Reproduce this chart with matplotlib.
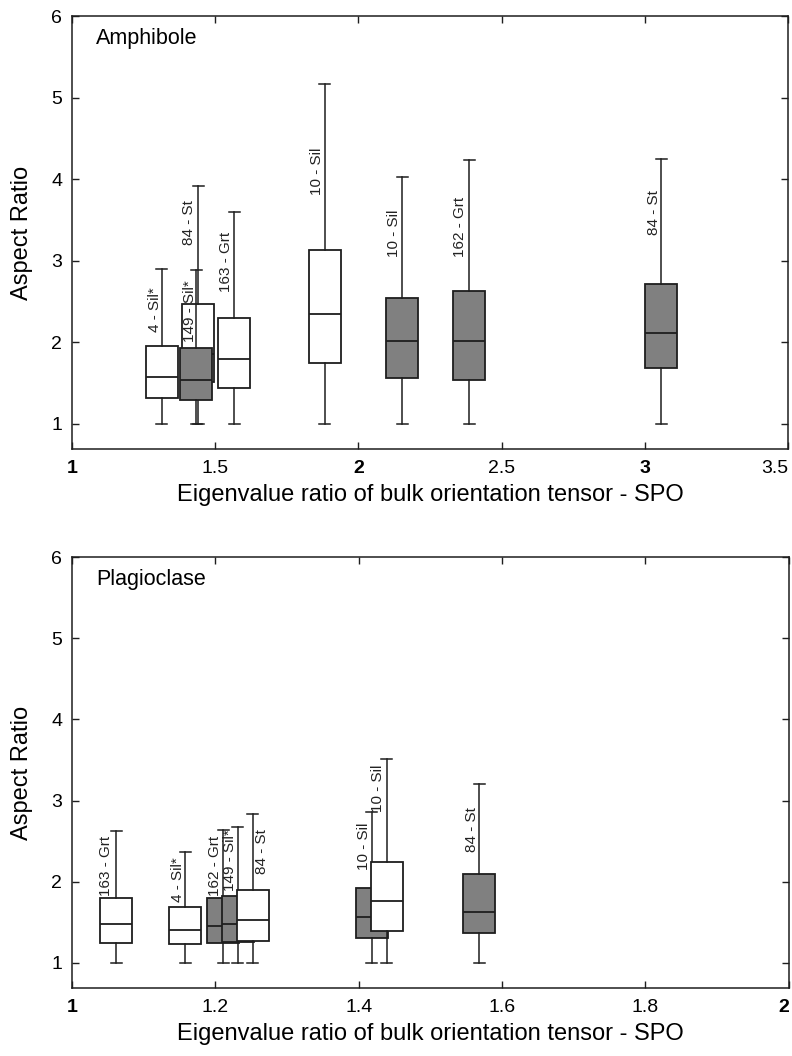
import numpy as np
import matplotlib
matplotlib.use('Agg')
import matplotlib.pyplot as plt

plt.rcParams['font.family'] = ['Liberation Sans', 'DejaVu Sans']

# Amphibole panel (top)
amph_labels = ['4 - Sil*', '84 - St', '149 - Sil*', '163 - Grt', '10 - Sil', '10 - Sil', '162 - Grt', '84 - St']
amph_spo = [1.314, 1.441, 1.434, 1.567, 1.882, 2.153, 2.387, 3.058]
amph_whislo = [1.0, 1.0, 1.0, 1.0, 1.0, 1.0, 1.0, 1.0]
amph_q1 = [1.32, 1.51, 1.29, 1.44, 1.75, 1.56, 1.54, 1.68]
amph_med = [1.57, 1.85, 1.54, 1.80, 2.34, 2.01, 2.02, 2.11]
amph_q3 = [1.95, 2.47, 1.93, 2.30, 3.13, 2.54, 2.63, 2.71]
amph_whishi = [2.90, 3.92, 2.89, 3.60, 5.17, 4.02, 4.24, 4.25]
amph_filled = [False, False, True, False, False, True, True, True]

# Plagioclase panel (bottom)
plag_labels = ['163 - Grt', '4 - Sil*', '162 - Grt', '149 - Sil*', '84 - St', '10 - Sil', '10 - Sil', '84 - St']
plag_spo = [1.062, 1.158, 1.211, 1.2315, 1.252, 1.418, 1.439, 1.568]
plag_whislo = [1.0, 1.0, 1.0, 1.0, 1.0, 1.0, 1.0, 1.0]
plag_q1 = [1.25, 1.23, 1.24, 1.26, 1.27, 1.30, 1.39, 1.365]
plag_med = [1.48, 1.40, 1.455, 1.48, 1.525, 1.57, 1.76, 1.63]
plag_q3 = [1.80, 1.69, 1.80, 1.825, 1.90, 1.92, 2.24, 2.09]
plag_whishi = [2.62, 2.37, 2.64, 2.68, 2.83, 2.855, 3.51, 3.20]
plag_filled = [False, False, True, True, False, True, False, True]

# where the sample names sit (bottom of rotated text, x shift in pixels)
amph_label_y = [2.12, 3.19, 2.0, 2.61, 3.80, 3.04, 3.04, 3.32]
amph_label_dx = [-7, -9, -6, -8, -8, -8, -9, -7]
plag_label_y = [1.825, 1.755, 1.825, 1.88, 2.10, 2.145, 2.86, 2.37]
plag_label_dx = [-10, -7, -8, -8, 9, -8, -9, -7]

GRAY = '#808080'
EDGE = '#1e1e1e'


def draw_panel(ax, spo, lo, q1, med, q3, hi, filled, labels, lab_y, lab_dx, box_w, cap_w):
	for i in range(len(spo)):
		st = [{'med': med[i], 'q1': q1[i], 'q3': q3[i], 'whislo': lo[i], 'whishi': hi[i], 'fliers': []}]
		fc = GRAY if filled[i] else 'white'
		ax.bxp(st, positions=[spo[i]], widths=[box_w], capwidths=[cap_w],
			   showfliers=False, patch_artist=True, manage_ticks=False, zorder=2 + i,
			   boxprops=dict(facecolor=fc, edgecolor=EDGE, linewidth=1.3),
			   whiskerprops=dict(color=EDGE, linewidth=1.1),
			   capprops=dict(color=EDGE, linewidth=1.1),
			   medianprops=dict(color=EDGE, linewidth=1.3))
		ax.annotate(labels[i], xy=(spo[i], lab_y[i]), xytext=(lab_dx[i] * 0.72, 0),
					textcoords='offset points', rotation=90, ha='center', va='bottom',
					fontsize=11, color='#222222', zorder=20)


def style_axes(ax, xticks, xlabels, bold, title):
	ax.set_ylim(0.69, 6)
	ax.set_yticks([1, 2, 3, 4, 5, 6])
	ax.set_xticks(xticks)
	ax.set_xticklabels(xlabels)
	for t, b in zip(ax.get_xticklabels(), bold):
		if b:
			t.set_fontweight('bold')
	# last label sits on the right edge of the figure, keep it inside
	ax.get_xticklabels()[-1].set_horizontalalignment('right')
	ax.tick_params(direction='in', length=5, width=1.0, labelsize=14, top=True, right=True, color=EDGE)
	ax.tick_params(axis='x', pad=8)
	ax.tick_params(axis='y', pad=7)
	for s in ax.spines.values():
		s.set_linewidth(1.1)
		s.set_color(EDGE)
	ax.set_xlabel('Eigenvalue ratio of bulk orientation tensor - SPO', fontsize=17, labelpad=5)
	ax.set_ylabel('Aspect Ratio', fontsize=17)
	ax.yaxis.set_label_coords(-0.054, 0.5)
	ax.text(0.034, 0.972, title, transform=ax.transAxes, ha='left', va='top', fontsize=15.5)


fig = plt.figure(figsize=(7.92, 10.56), dpi=100)
ax1 = fig.add_axes([0.0909, 0.5748, 0.904, 0.410])
ax2 = fig.add_axes([0.0909, 0.0644, 0.905, 0.408])

draw_panel(ax1, amph_spo, amph_whislo, amph_q1, amph_med, amph_q3, amph_whishi, amph_filled,
		   amph_labels, amph_label_y, amph_label_dx, 0.1115, 0.038)
ax1.set_xlim(1, 3.5)
style_axes(ax1, [1, 1.5, 2, 2.5, 3, 3.5], ['1', '1.5', '2', '2.5', '3', '3.5'],
		   [True, False, True, False, True, False], 'Amphibole')

draw_panel(ax2, plag_spo, plag_whislo, plag_q1, plag_med, plag_q3, plag_whishi, plag_filled,
		   plag_labels, plag_label_y, plag_label_dx, 0.0446, 0.0153)
ax2.set_xlim(1, 2)
style_axes(ax2, [1, 1.2, 1.4, 1.6, 1.8, 2], ['1', '1.2', '1.4', '1.6', '1.8', '2'],
		   [True, False, False, False, False, True], 'Plagioclase')

fig.savefig('out.png', dpi=100)
